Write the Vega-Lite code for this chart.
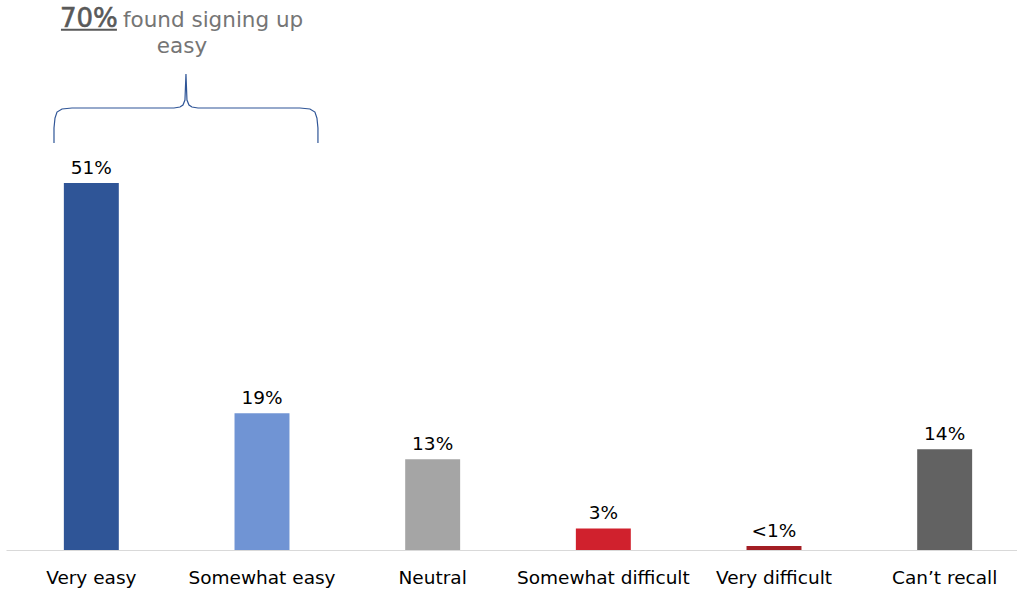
{
  "$schema": "https://vega.github.io/schema/vega-lite/v6.json",
  "width": 1011,
  "height": 550,
  "autosize": "none",
  "padding": {"left": 6, "top": 0, "right": 0, "bottom": 42},
  "background": "white",
  "config": {"view": {"stroke": null}, "font": "DejaVu Sans"},
  "resolve": {"scale": {"x": "independent"}},
  "layer": [
    {
      "data": {"values": [
        {"cat": "Very easy", "pct": 51, "label": "51%"},
        {"cat": "Somewhat easy", "pct": 19, "label": "19%"},
        {"cat": "Neutral", "pct": 12.6, "label": "13%"},
        {"cat": "Somewhat difficult", "pct": 3, "label": "3%"},
        {"cat": "Very difficult", "pct": 0.55, "label": "<1%"},
        {"cat": "Can’t recall", "pct": 14, "label": "14%"}
      ]},
      "encoding": {
        "x": {
          "field": "cat", "type": "nominal", "sort": null,
          "scale": {"range": [0, 1024], "paddingInner": 0.678, "paddingOuter": 0.339},
          "axis": {
            "title": null, "labelAngle": 0, "ticks": false,
            "domainColor": "#D9D9D9", "domainWidth": 1,
            "labelFontSize": 18.5, "labelColor": "#000000", "labelPadding": 18,
            "labelFont": "DejaVu Sans"
          }
        },
        "y": {
          "field": "pct", "type": "quantitative",
          "scale": {"domain": [0, 76.43], "nice": false, "zero": true},
          "axis": null
        }
      },
      "layer": [
        {
          "mark": {"type": "bar"},
          "encoding": {
            "color": {
              "field": "cat", "type": "nominal", "sort": null, "legend": null,
              "scale": {
                "domain": ["Very easy", "Somewhat easy", "Neutral", "Somewhat difficult", "Very difficult", "Can’t recall"],
                "range": ["#2F5597", "#7094D4", "#A5A5A5", "#D0212D", "#A31E24", "#626262"]
              }
            }
          }
        },
        {
          "mark": {"type": "text", "baseline": "alphabetic", "dy": -9, "fontSize": 18.5, "color": "#000000"},
          "encoding": {"text": {"field": "label"}}
        }
      ]
    },
    {
      "data": {"values": [
        {"o": 1, "u": 0.2812, "v": 56.56},
        {"o": 2, "u": 0.2812, "v": 58.64},
        {"o": 3, "u": 0.2871, "v": 60.03},
        {"o": 4, "u": 0.2988, "v": 60.86},
        {"o": 5, "u": 0.3281, "v": 61.28},
        {"o": 6, "u": 0.3866, "v": 61.42},
        {"o": 7, "u": 0.9842, "v": 61.42},
        {"o": 8, "u": 1.0193, "v": 61.56},
        {"o": 9, "u": 1.0369, "v": 61.84},
        {"o": 10, "u": 1.0486, "v": 62.53},
        {"o": 11, "u": 1.0545, "v": 66.15},
        {"o": 12, "u": 1.0603, "v": 62.53},
        {"o": 13, "u": 1.0721, "v": 61.84},
        {"o": 14, "u": 1.0896, "v": 61.56},
        {"o": 15, "u": 1.1248, "v": 61.42},
        {"o": 16, "u": 1.7223, "v": 61.42},
        {"o": 17, "u": 1.7809, "v": 61.28},
        {"o": 18, "u": 1.8102, "v": 60.86},
        {"o": 19, "u": 1.8219, "v": 60.03},
        {"o": 20, "u": 1.8278, "v": 58.64},
        {"o": 21, "u": 1.8278, "v": 56.56}
      ]},
      "mark": {"type": "line", "color": "#2F5597", "strokeWidth": 1.2, "interpolate": "linear"},
      "encoding": {
        "x": {"field": "u", "type": "quantitative", "scale": {"domain": [0, 6], "range": [0, 1024], "nice": false, "zero": false}, "axis": null},
        "y": {"field": "v", "type": "quantitative"},
        "order": {"field": "o", "type": "quantitative"}
      }
    },
    {
      "data": {"values": [
        {"u": 0.322, "u2": 0.650, "v": 72.3}
      ]},
      "mark": {"type": "rule", "color": "#595959", "strokeWidth": 2},
      "encoding": {
        "x": {"field": "u", "type": "quantitative", "scale": {"domain": [0, 6], "range": [0, 1024], "nice": false, "zero": false}, "axis": null},
        "x2": {"field": "u2"},
        "y": {"field": "v", "type": "quantitative"}
      }
    },
    {
      "data": {"values": [
        {"u": 0.3163, "v": 72.72, "t": "70%", "w": "bold", "a": "left"},
        {"u": 0.6854, "v": 72.72, "t": "found signing up", "w": "normal", "a": "left"},
        {"u": 1.031, "v": 69.07, "t": "easy", "w": "normal", "a": "center"}
      ]},
      "layer": [
        {
          "transform": [{"filter": "datum.w == 'bold'"}],
          "mark": {"type": "text", "baseline": "alphabetic", "align": "left", "fontSize": 26, "fontWeight": "normal", "color": "#595959", "stroke": "#595959", "strokeWidth": 0.6},
          "encoding": {
            "x": {"field": "u", "type": "quantitative", "scale": {"domain": [0, 6], "range": [0, 1024], "nice": false, "zero": false}, "axis": null},
            "y": {"field": "v", "type": "quantitative"},
            "text": {"field": "t"}
          }
        },
        {
          "transform": [{"filter": "datum.a == 'left' && datum.w == 'normal'"}],
          "mark": {"type": "text", "baseline": "alphabetic", "align": "left", "fontSize": 21.5, "color": "#757575"},
          "encoding": {
            "x": {"field": "u", "type": "quantitative", "scale": {"domain": [0, 6], "range": [0, 1024], "nice": false, "zero": false}, "axis": null},
            "y": {"field": "v", "type": "quantitative"},
            "text": {"field": "t"}
          }
        },
        {
          "transform": [{"filter": "datum.a == 'center'"}],
          "mark": {"type": "text", "baseline": "alphabetic", "align": "center", "fontSize": 21.5, "color": "#757575"},
          "encoding": {
            "x": {"field": "u", "type": "quantitative", "scale": {"domain": [0, 6], "range": [0, 1024], "nice": false, "zero": false}, "axis": null},
            "y": {"field": "v", "type": "quantitative"},
            "text": {"field": "t"}
          }
        }
      ]
    }
  ]
}
